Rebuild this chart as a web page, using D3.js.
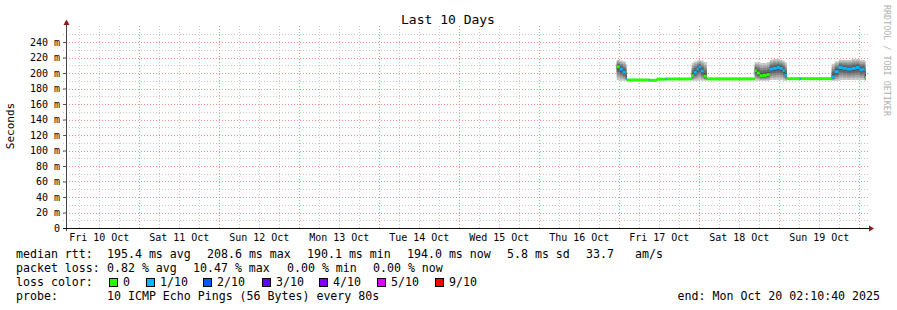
<!DOCTYPE html>
<html>
<head>
<meta charset="utf-8">
<script src="https://cdn.jsdelivr.net/npm/d3@7"></script>
<style>
  body { margin: 0; background: #fff; }
  svg { display: block; }
  text { font-family: "DejaVu Sans Mono", monospace; fill: #000; }
</style>
</head>
<body>
<svg id="chart" width="897" height="310"></svg>
<script>
(function() {
'use strict';

// hours after Fri 17 Oct 00:00, one sample per step (step-after)
var hours  = [-0.6, 0.3, 1.2, 2.1, 2.4, 9.0, 9.3, 11.4, 14.1, 14.4, 21.9, 22.5, 23.4, 24.0, 24.6,
              25.5, 26.4, 40.8, 41.4, 42.3, 43.2, 44.4, 45.3, 46.2, 47.4, 48.3, 49.2, 49.8, 50.4,
              54.3, 54.6, 63.9, 64.8, 66.0, 67.2, 68.4, 69.9, 71.1, 72.3, 73.2, 73.8];
var median = [208, 205, 201, 193, 191, 191, 190.5, 192, 192.3, 192.3, 196.5, 201, 205, 208, 202.6,
              196, 192.3, 203, 200, 196.5, 197, 198, 205, 206, 207, 206, 203, 197, 192.6,
              192.6, 192.6, 195, 201.7, 207, 206, 205, 206, 207, 204, 205, 194];
var smokeLo = [191, 190, 190, 190, 190, 190, 190, 191, 191, 191, 190, 190, 190, 191, 190,
               190, 191, 190, 190, 190, 190, 190, 191, 191, 191, 191, 190, 190, 191,
               191, 191, 190, 190, 191, 191, 191, 191, 191, 191, 191, 190];
var smokeHi = [217, 216, 215, 212, 192, 192, 192, 193, 193, 193, 213, 215, 216, 217, 216,
               214, 194, 214, 214, 213, 213, 214, 217, 218, 218, 217, 216, 214, 194,
               194, 194, 212, 215, 217, 217, 217, 218, 218, 217, 217, 215];
var loss = [0, 1, 1, 1, 0, 1, 0, 0, 1, 0, 0, 1, 1, 1, 1,
            0, 0, 0, 0, 0, 0, 0, 1, 1, 1, 1, 1, 1, 0,
            1, 0, 1, 1, 1, 1, 1, 1, 1, 1, 1, 0];

var yTicks = [0, 20, 40, 60, 80, 100, 120, 140, 160, 180, 200, 220, 240];
var lossLabels = ['0', '1/10', '2/10', '3/10', '4/10', '5/10', '9/10'];
var lossColors = ['#26ff00', '#00b8ff', '#0059ff', '#5e00ff', '#7e00ff', '#dd00ff', '#ff0000'];
var rttStats = ['195.4 ms avg', '208.6 ms max', '190.1 ms min', '194.0 ms now', '5.8 ms sd', '33.7', 'am/s'];
var lossStats = ['0.82 % avg', '10.47 % max', '0.00 % min', '0.00 % now'];
var probeText = '10 ICMP Echo Pings (56 Bytes) every 80s';
var endText = 'end: Mon Oct 20 02:10:40 2025';

var start = new Date(2025, 9, 10, 2, 10, 40);
var end = new Date(2025, 9, 20, 2, 10, 40);
var base = new Date(2025, 9, 17, 0, 0, 0);

var data = hours.map(function(h, i) {
    return {
        t: new Date(base.getTime() + h * 3600e3),
        med: median[i], lo: smokeLo[i], hi: smokeHi[i], loss: loss[i]
    };
});
data.forEach(function(d, i) {
    d.t2 = i + 1 < data.length ? data[i + 1].t : end;
});

var svg = d3.select('#chart');
var x = d3.scaleTime().domain([start, end]).range([66, 866]);
var y = d3.scaleLinear().domain([0, 260]).range([228, 26.5]);

// minor grid
var g = svg.append('g');
d3.timeHour.every(6).range(start, end).forEach(function(t) {
    if (t.getHours() === 0) return;
    g.append('line').attr('x1', Math.round(x(t)) + 0.5).attr('x2', Math.round(x(t)) + 0.5)
        .attr('y1', 26).attr('y2', 230)
        .attr('stroke', '#c8c8c8').attr('stroke-dasharray', '1,2');
});
d3.range(10, 260, 20).forEach(function(v) {
    g.append('line').attr('x1', 63).attr('x2', 868)
        .attr('y1', Math.round(y(v)) + 0.5).attr('y2', Math.round(y(v)) + 0.5)
        .attr('stroke', '#c8c8c8').attr('stroke-dasharray', '1,2');
});
// major grid
d3.timeDay.range(start, end).forEach(function(t) {
    g.append('line').attr('x1', Math.round(x(t)) + 0.5).attr('x2', Math.round(x(t)) + 0.5)
        .attr('y1', 26).attr('y2', 230)
        .attr('stroke', '#f29090').attr('stroke-dasharray', '1,2');
});
yTicks.slice(1).forEach(function(v) {
    g.append('line').attr('x1', 63).attr('x2', 868)
        .attr('y1', Math.round(y(v)) + 0.5).attr('y2', Math.round(y(v)) + 0.5)
        .attr('stroke', '#f29090').attr('stroke-dasharray', '1,2');
});

// smoke: nested bands from the extremes towards the median
var bands = [1, 0.8, 0.6, 0.4, 0.2];
var shades = ['#c4c4c4', '#a4a4a4', '#858585', '#666666', '#484848'];
var smoke = svg.append('g');
bands.forEach(function(f, k) {
    data.forEach(function(d) {
        var top = d.med + (d.hi - d.med) * f;
        var bot = d.med - (d.med - d.lo) * f;
        smoke.append('rect')
            .attr('x', x(d.t)).attr('width', Math.max(0, x(d.t2) - x(d.t)))
            .attr('y', y(top)).attr('height', Math.max(0, y(bot) - y(top)))
            .attr('fill', shades[k]);
    });
});

// median, coloured by loss
svg.append('g').selectAll('rect')
    .data(data)
    .enter()
    .append('rect')
    .attr('x', function(d) { return x(d.t); })
    .attr('width', function(d) { return x(d.t2) - x(d.t); })
    .attr('y', function(d) { return y(d.med) - 1.5; })
    .attr('height', 3)
    .attr('fill', function(d) { return lossColors[d.loss]; });

// axes
var yAxis = svg.append('g').attr('transform', 'translate(66,0)')
    .call(d3.axisLeft(y).tickValues(yTicks).tickSize(3).tickPadding(3)
        .tickFormat(function(v) { return v === 0 ? '0' : v + ' m'; }));
yAxis.select('.domain').remove();
yAxis.selectAll('line').attr('stroke', '#555');
yAxis.selectAll('text').attr('font-size', 10).attr('font-family', 'DejaVu Sans Mono');

var noons = d3.timeDay.range(d3.timeDay.floor(start), end).map(function(d) {
    return d3.timeHour.offset(d, 12);
}).filter(function(t) { return t > start && t < end; });
var xAxis = svg.append('g').attr('transform', 'translate(0,228)')
    .call(d3.axisBottom(x).tickValues(noons).tickSize(0).tickPadding(6)
        .tickFormat(d3.timeFormat('%a %d %b')));
xAxis.select('.domain').remove();
xAxis.selectAll('text').attr('font-size', 10).attr('font-family', 'DejaVu Sans Mono');

svg.append('line').attr('x1', 66.5).attr('x2', 66.5).attr('y1', 231).attr('y2', 24)
    .attr('stroke', '#444');
svg.append('line').attr('x1', 63).attr('x2', 870).attr('y1', 228.5).attr('y2', 228.5)
    .attr('stroke', '#111');
svg.append('path').attr('d', 'M63.5,25 L66.5,19.5 L69.5,25 Z').attr('fill', '#8b1a1a');
svg.append('path').attr('d', 'M869,225.5 L874,228.5 L869,231.5 Z').attr('fill', '#8b1a1a');

// titles
svg.append('text').attr('x', 448).attr('y', 24).attr('text-anchor', 'middle')
    .attr('font-size', 13).text('Last 10 Days');
svg.append('text').attr('transform', 'translate(14,126) rotate(-90)')
    .attr('text-anchor', 'middle').attr('font-size', 11).text('Seconds');
svg.append('text').attr('transform', 'translate(884,5) rotate(90)')
    .attr('font-size', 8.4).style('fill', '#b0b0b0').text('RRDTOOL / TOBI OETIKER');

// legend
var l1 = svg.append('g').attr('font-size', 11.6);
l1.append('text').attr('x', 16).attr('y', 258).text('median rtt:');
[107, 207, 307, 407, 507, 586, 635].forEach(function(px, i) {
    l1.append('text').attr('x', px).attr('y', 258).text(rttStats[i]);
});
l1.append('text').attr('x', 16).attr('y', 272).text('packet loss:');
[107, 193, 287, 373].forEach(function(px, i) {
    l1.append('text').attr('x', px).attr('y', 272).text(lossStats[i]);
});
l1.append('text').attr('x', 16).attr('y', 286).text('loss color:');
[109, 146, 203, 262, 319, 377, 435].forEach(function(px, i) {
    l1.append('rect').attr('x', px + 0.5).attr('y', 278.5).attr('width', 8).attr('height', 8)
        .attr('fill', lossColors[i]).attr('stroke', '#000');
    l1.append('text').attr('x', px + 14).attr('y', 286).text(lossLabels[i]);
});
l1.append('text').attr('x', 16).attr('y', 300).text('probe:');
l1.append('text').attr('x', 107).attr('y', 300).text(probeText);
l1.append('text').attr('x', 880).attr('y', 300).attr('text-anchor', 'end').text(endText);

})();
</script>
</body>
</html>
